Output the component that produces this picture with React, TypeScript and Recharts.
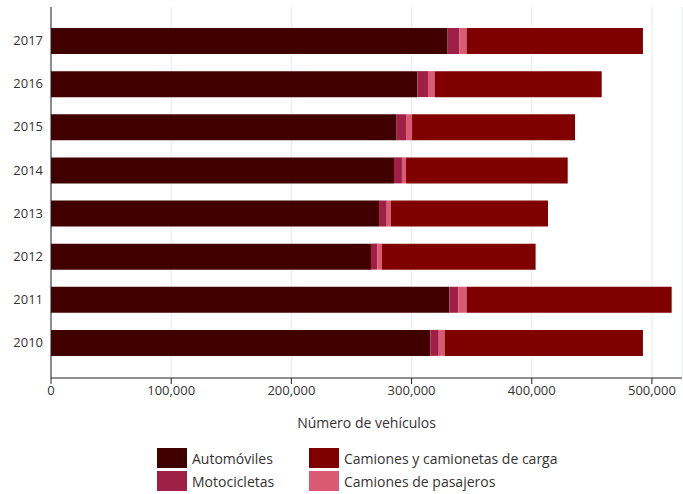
import React from "react"
import { Bar, BarChart, CartesianGrid, Legend, XAxis, YAxis } from "recharts"

const years = ["2017", "2016", "2015", "2014", "2013", "2012", "2011", "2010"]
const automoviles = [330000, 304800, 287600, 285400, 272900, 266200, 331400, 315600]
const motocicletas = [9700, 8900, 7800, 6600, 6400, 5300, 7500, 7000]
const pasajeros = [6100, 5500, 5000, 3400, 3600, 3900, 6900, 4900]
const carga = [146700, 139000, 135600, 134500, 130600, 127800, 170600, 165000]
const xTicks = [0, 100000, 200000, 300000, 400000, 500000]

const SERIES = [
  { key: "auto", name: "Automóviles", color: "#400000" },
  { key: "moto", name: "Motocicletas", color: "#a01f47" },
  { key: "pas", name: "Camiones de pasajeros", color: "#d95a72" },
  { key: "carga", name: "Camiones y camionetas de carga", color: "#800000" },
]

// legend is laid out row by row, two columns
const LEGEND_ORDER = ["auto", "carga", "moto", "pas"]

const data = years.map((year, i) => ({
  year,
  auto: automoviles[i],
  moto: motocicletas[i],
  pas: pasajeros[i],
  carga: carga[i],
}))

const FONT = "'Open Sans', sans-serif"

const renderLegend = () => (
  <div
    style={{
      display: "grid",
      gridTemplateColumns: "152px 300px",
      rowGap: 3,
      marginLeft: 157,
      paddingTop: 14,
      fontFamily: FONT,
      fontSize: 14,
      color: "#333",
      whiteSpace: "nowrap",
    }}
  >
    {LEGEND_ORDER.map(k => {
      const s = SERIES.find(x => x.key === k)!
      return (
        <div key={k} style={{ display: "flex", alignItems: "center", height: 20 }}>
          <span style={{ width: 30, height: 20, background: s.color, marginRight: 5, display: "inline-block", flexShrink: 0 }} />
          <span>{s.name}</span>
        </div>
      )
    })}
  </div>
)

export default function App() {
  return (
    <div style={{ position: "absolute", left: 0, top: 0, background: "#fff" }}>
      <BarChart
        width={683}
        height={494}
        data={data}
        layout="vertical"
        margin={{ top: 7, right: 1, left: 0, bottom: 0 }}
      >
        <CartesianGrid horizontal={false} stroke="#e4ecf0" />
        <XAxis
          type="number"
          domain={[0, 525000]}
          ticks={xTicks}
          tickFormatter={v => v.toLocaleString("en-US")}
          stroke="#222"
          tick={{ fill: "#333", fontSize: 13, fontFamily: FONT }}
          tickSize={6}
          height={56}
          label={{ value: "Número de vehículos", position: "insideBottom", offset: 6, fill: "#333", fontSize: 14, fontFamily: FONT }}
        />
        <YAxis
          type="category"
          dataKey="year"
          width={51}
          stroke="#222"
          tickLine={false}
          tickSize={0}
          tickMargin={8}
          padding={{ top: 12, bottom: 14 }}
          tick={{ fill: "#333", fontSize: 13, fontFamily: FONT }}
        />
        <Legend verticalAlign="bottom" height={60} content={renderLegend} />
        {SERIES.map(s => (
          <Bar key={s.key} dataKey={s.key} name={s.name} stackId="a" fill={s.color} barSize={26} isAnimationActive={false} />
        ))}
      </BarChart>
    </div>
  )
}
